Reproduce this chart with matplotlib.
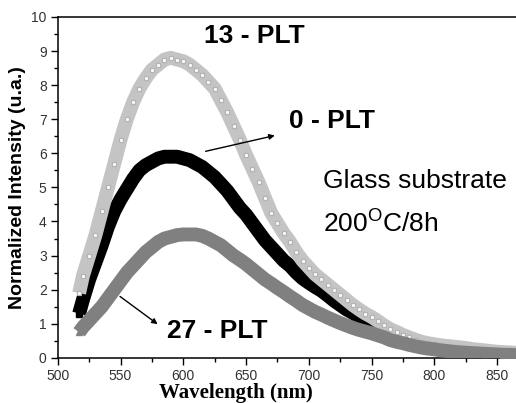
import numpy as np
import matplotlib
matplotlib.use("Agg")
import matplotlib.pyplot as plt
from matplotlib.ticker import MultipleLocator

plt.rcParams['font.family'] = ['Liberation Sans', 'DejaVu Sans']
plt.rcParams['mathtext.fontset'] = 'custom'
plt.rcParams['mathtext.rm'] = 'Liberation Sans'

# wavelength grid (nm), values every 5 nm
wavelength = [517] + list(range(520, 870, 5))

# 13 - PLT (light grey open squares)
plt13 = [1.9, 2.4, 3.0, 3.6, 4.3, 5.0, 5.7, 6.4, 7.0, 7.5, 7.9, 8.2, 8.45, 8.6, 8.75,
         8.8, 8.75, 8.7, 8.6, 8.45, 8.3, 8.1, 7.9, 7.55, 7.2, 6.8, 6.4, 5.95, 5.55, 5.15,
         4.7, 4.25, 3.95, 3.65, 3.4, 3.1, 2.85, 2.65, 2.45, 2.3, 2.15, 2.0, 1.85, 1.7,
         1.55, 1.42, 1.3, 1.2, 1.08, 0.95, 0.84, 0.76, 0.67, 0.6, 0.53, 0.47, 0.43, 0.4,
         0.37, 0.35, 0.33, 0.31, 0.29, 0.26, 0.24, 0.22, 0.2, 0.18, 0.17, 0.16, 0.15]

# 0 - PLT (black filled squares)
plt0 = [1.3, 1.7, 2.3, 2.8, 3.3, 3.85, 4.3, 4.65, 4.95, 5.25, 5.5, 5.65, 5.75, 5.85, 5.9,
        5.9, 5.9, 5.85, 5.8, 5.7, 5.6, 5.45, 5.3, 5.1, 4.9, 4.65, 4.4, 4.2, 3.95, 3.7,
        3.45, 3.25, 3.05, 2.85, 2.7, 2.5, 2.33, 2.2, 2.08, 1.97, 1.83, 1.68, 1.55, 1.42,
        1.32, 1.2, 1.05, 0.92, 0.8, 0.7, 0.6, 0.53, 0.47, 0.42, 0.37, 0.33, 0.3, 0.27,
        0.24, 0.22, 0.2, 0.18, 0.16, 0.15, 0.14, 0.13, 0.12, 0.11, 0.1, 0.1, 0.09]

# 27 - PLT (grey triangles)
plt27 = [0.75, 0.9, 1.1, 1.3, 1.5, 1.75, 2.0, 2.25, 2.5, 2.7, 2.9, 3.1, 3.25, 3.4, 3.5,
         3.55, 3.6, 3.62, 3.62, 3.62, 3.58, 3.5, 3.4, 3.3, 3.15, 3.0, 2.88, 2.75, 2.6,
         2.45, 2.3, 2.18, 2.05, 1.93, 1.8, 1.68, 1.55, 1.45, 1.35, 1.27, 1.18, 1.1, 1.02,
         0.95, 0.88, 0.82, 0.77, 0.72, 0.66, 0.6, 0.52, 0.47, 0.43, 0.38, 0.34, 0.3, 0.27,
         0.25, 0.22, 0.2, 0.18, 0.16, 0.15, 0.14, 0.13, 0.12, 0.11, 0.1, 0.09, 0.09, 0.08]

fig = plt.figure(figsize=(5.16, 4.03), dpi=100)
ax = fig.add_axes([0.112, 0.112, 0.888, 0.846])

# light grey band with open squares
ax.plot(wavelength, plt13, color='#c4c4c4', lw=10, solid_capstyle='butt', zorder=2)
ax.plot(wavelength, plt13, ls='none', marker='s', ms=3.5, mfc='white', mec='#b4b4b4',
        mew=0.9, zorder=2.1)
# black band
ax.plot(wavelength, plt0, color='black', lw=10, solid_capstyle='butt', zorder=1.5)
ax.plot(wavelength, plt0, ls='none', marker='s', ms=4.5, color='black', zorder=1.6)
# dark grey band
ax.plot(wavelength, plt27, color='#808080', lw=10, solid_capstyle='butt', zorder=3)
ax.plot(wavelength, plt27, ls='none', marker='^', ms=4.5, color='#808080', zorder=3.1)

ax.set_xlim(500, 865)
ax.set_ylim(0, 10)
ax.xaxis.set_major_locator(MultipleLocator(50))
ax.xaxis.set_minor_locator(MultipleLocator(25))
ax.yaxis.set_major_locator(MultipleLocator(1))
ax.yaxis.set_minor_locator(MultipleLocator(0.5))
ax.tick_params(which='major', direction='out', length=5, width=1, labelsize=10,
               labelcolor='#333333', pad=3)
ax.tick_params(which='minor', direction='out', length=3, width=1)
ax.spines['right'].set_visible(False)
for s in ['left', 'top', 'bottom']:
    ax.spines[s].set_linewidth(1.1)

ax.set_ylabel('Normalized Intensity (u.a.)', fontsize=14, fontweight='bold', labelpad=4)
fig.text(0.458, 0.012, 'Wavelength (nm)', ha='center', va='baseline',
         fontsize=15, fontweight='bold', family='Liberation Serif')

# labels
ax.text(616.4, 9.24, '13 - PLT', fontsize=19, fontweight='bold', va='baseline')
ax.text(684.2, 6.74, '0 - PLT', fontsize=19, fontweight='bold', va='baseline')
ax.text(586.9, 0.59, '27 - PLT', fontsize=19, fontweight='bold', va='baseline')
ax.text(711.3, 4.99, 'Glass substrate', fontsize=19, va='baseline')
ax.text(711.3, 3.69, '200$^{\\mathrm{O}}$C/8h', fontsize=19, va='baseline')

arrow = dict(arrowstyle='-|>', color='black', lw=1, mutation_scale=8)
ax.annotate('', xy=(675, 6.54), xytext=(615.6, 6.04), arrowprops=arrow, zorder=5)
ax.annotate('', xy=(581.3, 0.94), xytext=(547.8, 1.85), arrowprops=arrow, zorder=5)

fig.savefig('out.png', dpi=100)
